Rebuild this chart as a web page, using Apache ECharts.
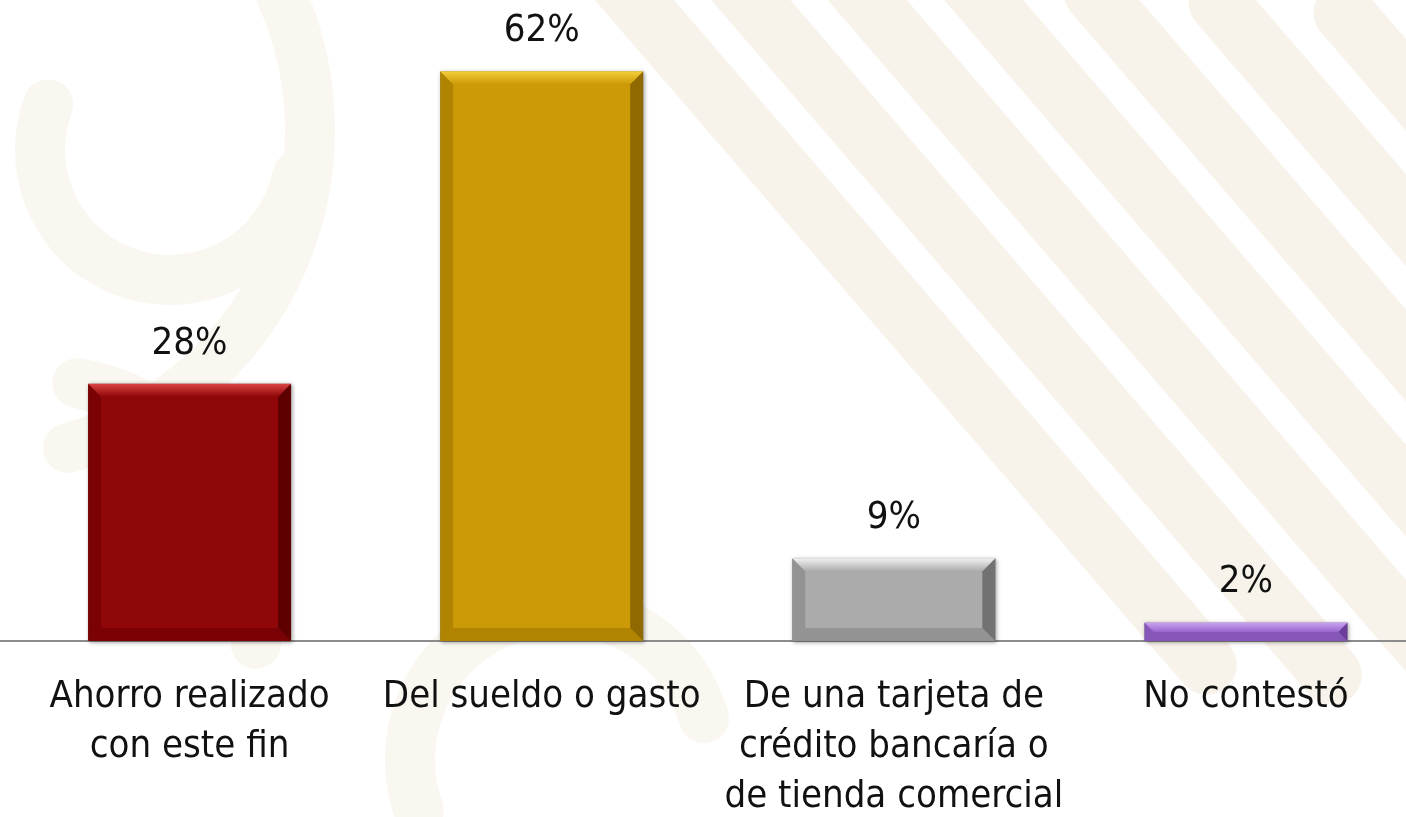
<!DOCTYPE html>
<html>
<head>
<meta charset="utf-8">
<script src="https://cdn.jsdelivr.net/npm/echarts@6/dist/echarts.min.js"></script>
<style>
  html, body { margin: 0; padding: 0; background: #fff; overflow: hidden; }
  /* un poco mas ancho que la ventana: la ultima categoria se sale por la derecha */
  #chart { width: 1422px; height: 817px; }
</style>
</head>
<body>
<div id="chart"></div>
<script>
// datos del grafico
const categories = [
  "Ahorro realizado\ncon este fin",
  "Del sueldo o gasto",
  "De una tarjeta de\ncrédito bancaría o\nde tienda comercial",
  "No contestó"
];
const values = [28, 62, 9, 2];

// colores de cada barra (cuerpo, borde claro, borde oscuro)
const barColors = ["#8F0709", "#CC9A06", "#ABABAB", "#9B68CF"];
const lightColors = ["#DA4444", "#F3CF3A", "#F2F2F2", "#C9A2F0"];
const darkColors = ["#5E0000", "#8F6A00", "#727272", "#6A3E9A"];
const midColors = ["#7A0204", "#B08400", "#939393", "#8657B8"];

const FONT = "'DejaVu Sans Condensed', 'Liberation Sans Narrow', sans-serif";
const BAR_W = 203;

var chartDom = document.getElementById("chart");
var myChart = echarts.init(chartDom);

// fondo con franjas beige (decorativo)
var bgColor = "#F8F3EA";
var bg = [];
for (var k = 0; k < 9; k++) {
  bg.push({
    type: "rect",
    shape: { x: -40, y: -30, width: 1000, height: 60, r: 30 },
    x: 600 + k * 125,
    y: -40 + k * 10,
    rotation: -0.86,
    originX: 0, originY: 0,
    style: { fill: bgColor }
  });
}
var arcs = [[-20, 130, 330, -1.2, 1.3], [170, 150, 130, 0.2, 3.5], [40, 600, 220, -1.4, 0.2], [560, 760, 150, 2.8, 6.0]];
arcs.forEach(function (r) {
  bg.push({
    type: "arc",
    shape: { cx: r[0], cy: r[1], r: r[2], startAngle: r[3], endAngle: r[4] },
    style: { stroke: "#FAF6F0", lineWidth: 50, fill: null, lineCap: "round" }
  });
});

// biselado de las barras
function renderBevel(params, api) {
  var i = api.value(0);
  var top = api.coord([i, api.value(1)]);
  var base = api.coord([i, 0]);
  var x0 = top[0] - BAR_W / 2, x1 = x0 + BAR_W;
  var y0 = top[1], y1 = base[1];
  var b = Math.min(13, (y1 - y0) / 2);
  function poly(pts, fill) {
    return { type: "polygon", shape: { points: pts }, style: { fill: fill } };
  }
  return {
    type: "group",
    children: [
      poly([[x0, y1], [x1, y1], [x1 - b, y1 - b], [x0 + b, y1 - b]], midColors[i]),
      poly([[x0, y0], [x0 + b, y0 + b], [x0 + b, y1 - b], [x0, y1]], midColors[i]),
      poly([[x1, y0], [x1, y1], [x1 - b, y1 - b], [x1 - b, y0 + b]], darkColors[i]),
      {
        type: "polygon",
        shape: { points: [[x0, y0], [x1, y0], [x1 - b, y0 + b], [x0 + b, y0 + b]] },
        style: {
          fill: new echarts.graphic.LinearGradient(0, 0, 0, 1, [
            { offset: 0, color: lightColors[i] },
            { offset: 1, color: barColors[i] }
          ])
        }
      }
    ]
  };
}

var option = {
  backgroundColor: "#ffffff",
  animation: false,
  graphic: [
    { type: "group", z: -10, silent: true, children: bg },
    {
      type: "line",
      shape: { x1: 0, y1: 641, x2: 14, y2: 641 },
      style: { stroke: "#8c8c8c", lineWidth: 2 }
    }
  ],
  grid: {
    left: 13.5,
    right: 0,
    top: 7,
    bottom: 176,
    outerBoundsMode: "none"
  },
  xAxis: {
    type: "category",
    data: categories,
    axisLine: { lineStyle: { color: "#8c8c8c", width: 2 } },
    axisTick: { show: false },
    axisLabel: {
      interval: 0,
      margin: 31,
      fontFamily: FONT,
      fontSize: 38,
      lineHeight: 50,
      color: "#111"
    }
  },
  yAxis: {
    type: "value",
    min: 0,
    max: 69,
    show: false,
    splitLine: { show: false }
  },
  series: [
    {
      type: "bar",
      barWidth: BAR_W,
      data: values.map(function (v, i) {
        return { value: v, itemStyle: { color: barColors[i] } };
      }),
      itemStyle: {
        borderColor: "#8a8a8a",
        borderWidth: 1,
        shadowColor: "rgba(0,0,0,0.35)",
        shadowBlur: 4,
        shadowOffsetX: 1,
        shadowOffsetY: 1
      },
      label: {
        show: true,
        position: "top",
        distance: 18,
        formatter: "{c}%",
        fontFamily: FONT,
        fontSize: 38,
        lineHeight: 44,
        color: "#111"
      }
    },
    {
      type: "custom",
      renderItem: renderBevel,
      silent: true,
      z: 3,
      encode: { x: 0, y: 1 },
      data: values.map(function (v, i) { return [i, v]; })
    }
  ]
};

option && myChart.setOption(option);
</script>
</body>
</html>
